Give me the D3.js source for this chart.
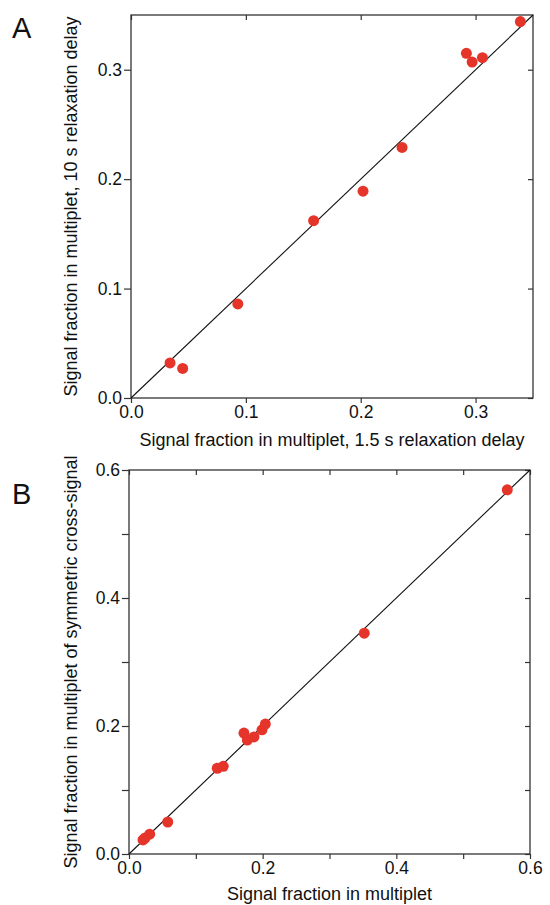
<!DOCTYPE html>
<html>
<head>
<meta charset="utf-8">
<script src="https://cdn.jsdelivr.net/npm/d3@7"></script>
<style>
  body { margin: 0; background: #fff; }
  text { font-family: "Liberation Sans", Arial, Helvetica, sans-serif; fill: #111; }
  .axis path { display: none; }
  .axis line { stroke: #333; stroke-width: 1.2; }
  .axis text { font-size: 17.5px; fill: #111; }
</style>
</head>
<body>
<script>
// panel A: 1.5 s vs 10 s relaxation delay
var aX = [0.034, 0.045, 0.093, 0.159, 0.202, 0.236, 0.292, 0.297, 0.306, 0.339];
var aY = [0.032, 0.027, 0.086, 0.162, 0.189, 0.229, 0.315, 0.307, 0.311, 0.344];
var aTicks = [0.0, 0.1, 0.2, 0.3];

// panel B: multiplet vs multiplet of symmetric cross-signal
var bX = [0.021, 0.024, 0.031, 0.058, 0.132, 0.141, 0.172, 0.177, 0.187, 0.199, 0.204, 0.352, 0.566];
var bY = [0.022, 0.025, 0.031, 0.050, 0.134, 0.137, 0.189, 0.178, 0.183, 0.194, 0.203, 0.345, 0.569];
var bTicks = [0.0, 0.2, 0.4, 0.6];
var bMinor = [0.1, 0.3, 0.5];

var width = 550,
    height = 905;

var svg = d3.select("body").append("svg")
    .attr("width", width)
    .attr("height", height);

var fmt = d3.format(".1f");

function panel(opt) {
    var x = d3.scaleLinear().domain([0, opt.max]).range([opt.left, opt.right]);
    var y = d3.scaleLinear().domain([0, opt.max]).range([opt.bottom, opt.top]);
    var g = svg.append("g");

    var tickSets = [{vals: opt.ticks, label: true}];
    if (opt.minor) tickSets.push({vals: opt.minor, label: false});

    tickSets.forEach(function(t) {
        // left / bottom: outward ticks, right / top: inward ticks
        g.append("g").attr("class", "axis")
            .attr("transform", "translate(0," + opt.bottom + ")")
            .call(d3.axisBottom(x).tickValues(t.vals).tickSize(5).tickPadding(3)
                .tickFormat(t.label ? fmt : ""));
        g.append("g").attr("class", "axis")
            .attr("transform", "translate(" + opt.left + ",0)")
            .call(d3.axisLeft(y).tickValues(t.vals).tickSize(7).tickPadding(2)
                .tickFormat(t.label ? fmt : ""));
        g.append("g").attr("class", "axis")
            .attr("transform", "translate(0," + opt.top + ")")
            .call(d3.axisTop(x).tickValues(t.vals).tickSize(-5).tickFormat(""));
        g.append("g").attr("class", "axis")
            .attr("transform", "translate(" + opt.right + ",0)")
            .call(d3.axisRight(y).tickValues(t.vals).tickSize(-5).tickFormat(""));
    });

    g.append("rect")
        .attr("x", opt.left)
        .attr("y", opt.top)
        .attr("width", opt.right - opt.left)
        .attr("height", opt.bottom - opt.top)
        .attr("fill", "none")
        .attr("stroke", "#333")
        .attr("stroke-width", 1.3);

    g.append("line")
        .attr("x1", x(0)).attr("y1", y(0))
        .attr("x2", x(opt.max)).attr("y2", y(opt.max))
        .attr("stroke", "#111")
        .attr("stroke-width", 1.1);

    g.selectAll("circle.pt")
        .data(opt.xs.map(function(v, i) { return [v, opt.ys[i]]; }))
      .enter().append("circle")
        .attr("class", "pt")
        .attr("cx", function(d) { return x(d[0]); })
        .attr("cy", function(d) { return y(d[1]); })
        .attr("r", 5.5)
        .attr("fill", "#e5352b");

    g.append("text")
        .attr("x", (opt.left + opt.right) / 2)
        .attr("y", opt.xTitleY)
        .attr("text-anchor", "middle")
        .style("font-size", "18px")
        .text(opt.xTitle);

    g.append("text")
        .attr("transform", "translate(77," + (opt.top + opt.bottom) / 2 + ") rotate(-90)")
        .attr("text-anchor", "middle")
        .style("font-size", "18px")
        .text(opt.yTitle);

    g.append("text")
        .attr("x", 12)
        .attr("y", opt.letterY)
        .style("font-size", "29px")
        .text(opt.letter);
}

panel({
    letter: "A", letterY: 38,
    left: 131, right: 533, top: 15, bottom: 398,
    max: 0.35, ticks: aTicks, minor: null,
    xs: aX, ys: aY,
    xTitle: "Signal fraction in multiplet, 1.5 s relaxation delay", xTitleY: 446,
    yTitle: "Signal fraction in multiplet, 10 s relaxation delay"
});

panel({
    letter: "B", letterY: 504,
    left: 129, right: 530, top: 470, bottom: 854,
    max: 0.6, ticks: bTicks, minor: bMinor,
    xs: bX, ys: bY,
    xTitle: "Signal fraction in multiplet", xTitleY: 900,
    yTitle: "Signal fraction in multiplet of symmetric cross-signal"
});
</script>
</body>
</html>
